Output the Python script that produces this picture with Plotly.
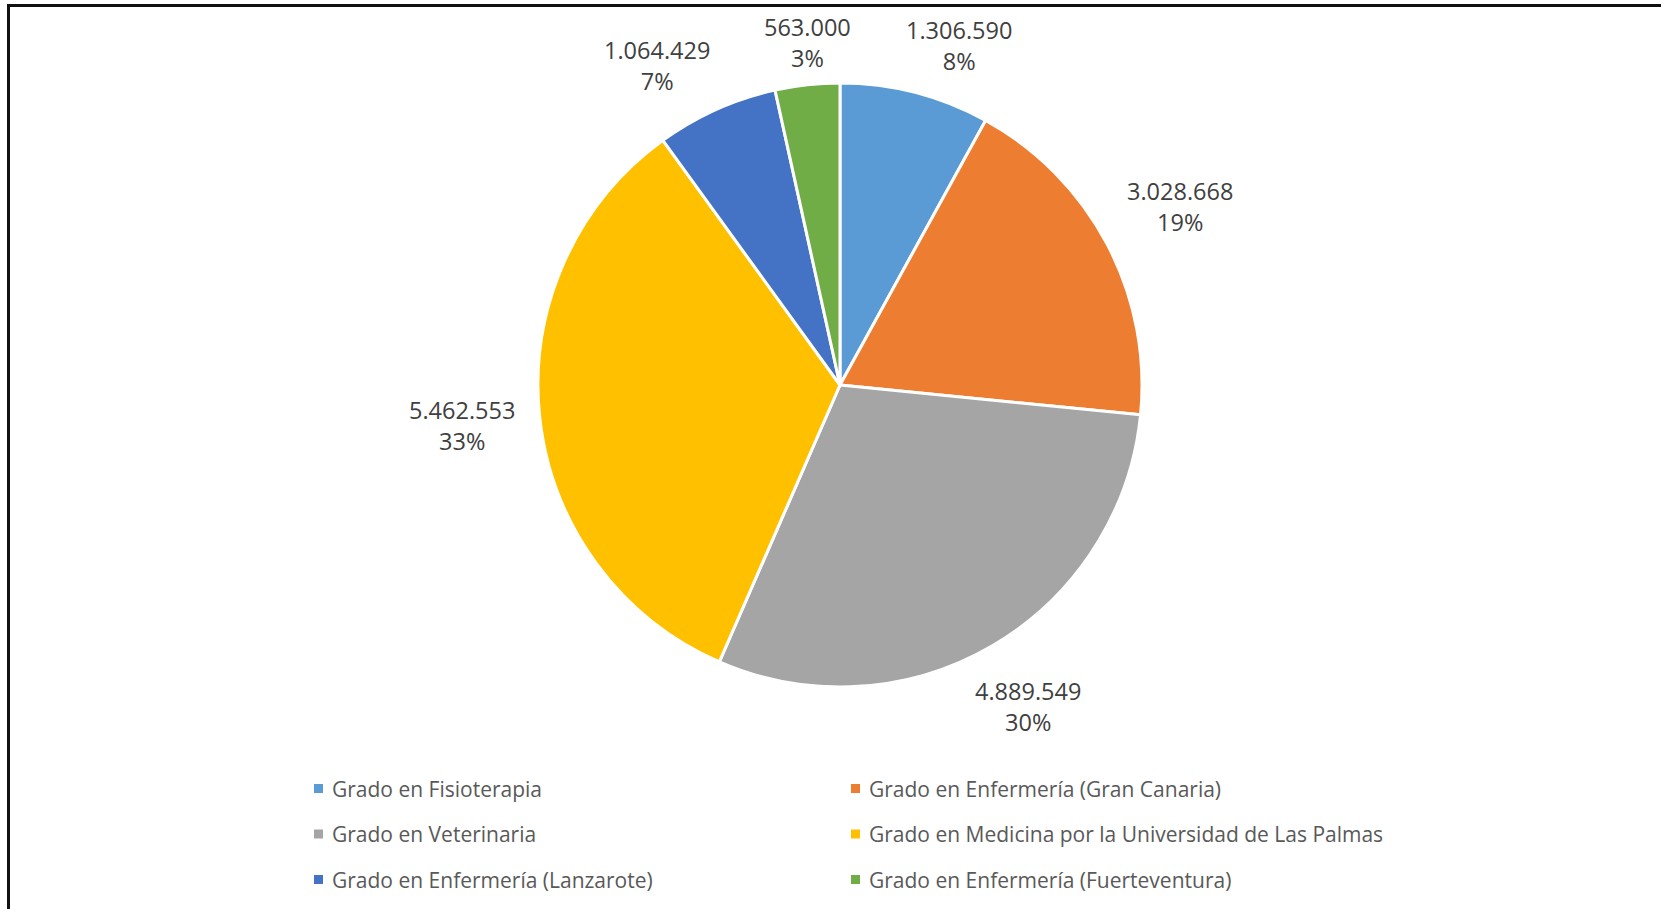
import math
import plotly.graph_objects as go

categories = [
    "Grado en Fisioterapia",
    "Grado en Enfermería (Gran Canaria)",
    "Grado en Veterinaria",
    "Grado en Medicina por la Universidad de Las Palmas",
    "Grado en Enfermería (Lanzarote)",
    "Grado en Enfermería (Fuerteventura)",
]
values = [1306590, 3028668, 4889549, 5462553, 1064429, 563000]
colors = ["#5B9BD5", "#ED7D31", "#A5A5A5", "#FFC000", "#4472C4", "#70AD47"]

W, H = 1661, 909
CX, CY, R = 840, 385, 302  # pie centre / radius in px

fig = go.Figure()
fig.add_trace(go.Pie(
    labels=categories,
    values=values,
    marker=dict(colors=colors, line=dict(color="white", width=3)),
    sort=False,
    direction="clockwise",
    rotation=0,
    textinfo="none",
    hoverinfo="label+value+percent",
    showlegend=False,
    domain=dict(x=[(CX - R) / W, (CX + R) / W], y=[1 - (CY + R) / H, 1 - (CY - R) / H]),
))

def fmt(v):
    return f"{v:,}".replace(",", ".")

total = sum(values)
cum = 0
hw, hh, gap = 60, 28, 16
ang, rad = [], []
for v in values:
    frac = v / total
    mid = (cum + frac / 2) * 2 * math.pi
    cum += frac
    ux, uy = math.sin(mid), -math.cos(mid)
    ext = gap + hw * abs(ux) + hh * abs(uy)
    ang.append(mid)
    rad.append(R + ext)

def xy(i):
    return CX + rad[i] * math.sin(ang[i]), CY - rad[i] * math.cos(ang[i])

# tangential de-overlap: slide labels along their circle until apart
minsep = 150
step = 0.004
for _ in range(400):
    moved = False
    for i in range(len(ang)):
        for j in range(i + 1, len(ang)):
            xi, yi = xy(i)
            xj, yj = xy(j)
            if abs(yj - yi) < 2 * hh + 4 and abs(xj - xi) < minsep:
                s = 1 if xj >= xi else -1
                ang[i] -= s * step * (1 if math.cos(ang[i]) >= 0 else -1)
                ang[j] += s * step * (1 if math.cos(ang[j]) >= 0 else -1)
                moved = True
    if not moved:
        break

annotations = []
for i, v in enumerate(values):
    lx, ly = xy(i)
    ly = max(ly, 42)
    annotations.append(dict(
        x=lx / W, y=1 - ly / H, xref="paper", yref="paper",
        text=f"{fmt(v)}<br>{round(v / total * 100)}%",
        showarrow=False, xanchor="center", yanchor="middle",
        font=dict(family="Open Sans", size=23.5, color="#404040"),
    ))

# legend (2 columns)
shapes = []
col_x = [314, 851]
row_y = [788.5, 834, 879.5]
for i, (cat, col) in enumerate(zip(categories, colors)):
    cx = col_x[i % 2]
    cy = row_y[i // 2]
    shapes.append(dict(type="rect", xref="paper", yref="paper",
                       x0=cx / W, x1=(cx + 9) / W, y0=1 - (cy + 4.5) / H, y1=1 - (cy - 4.5) / H,
                       fillcolor=col, line=dict(width=0)))
    annotations.append(dict(
        x=(cx + 16) / W, y=1 - cy / H, xref="paper", yref="paper",
        text=cat, showarrow=False, xanchor="left", yanchor="middle",
        font=dict(family="Open Sans", size=21, color="#595959"),
    ))

# outer border
shapes.append(dict(type="rect", xref="paper", yref="paper",
                   x0=8.5 / W, x1=1.02, y0=-0.02, y1=1 - 5.5 / H,
                   line=dict(color="#111111", width=3), fillcolor="rgba(0,0,0,0)"))

fig.update_layout(
    width=W, height=H,
    margin=dict(l=0, r=0, t=0, b=0),
    paper_bgcolor="white", plot_bgcolor="white",
    annotations=annotations, shapes=shapes,
    font=dict(family="Open Sans"),
)
fig.write_html(
    "out.html",
    config={"displayModeBar": False},
    post_script="document.body.style.margin='0';document.body.style.overflow='hidden';",
)
